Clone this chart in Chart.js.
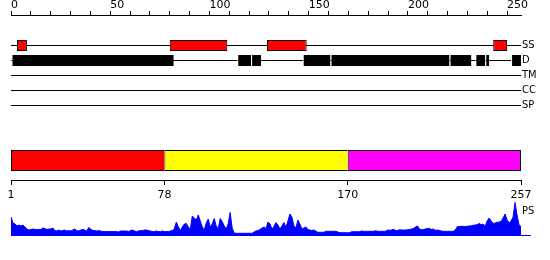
<!DOCTYPE html>
<html>
<head>
<meta charset="utf-8">
<script src="https://cdn.jsdelivr.net/npm/chart.js@4.4.1/dist/chart.umd.min.js"></script>
<style>
  html, body { margin: 0; padding: 0; background: #ffffff; }
  #wrap { position: relative; width: 550px; height: 260px; background: #ffffff; overflow: hidden; }
  canvas { position: absolute; left: 0; }
  #tracks { top: 0px; }
  #domains { top: 140px; }
  #ps { top: 198px; }
</style>
</head>
<body>
<div id="wrap">
  <canvas id="tracks" width="550" height="125"></canvas>
  <canvas id="domains" width="550" height="60"></canvas>
  <canvas id="ps" width="550" height="62"></canvas>
</div>
<script>
// ---------------- data ----------------
const seqLength = 257;
const rulerTicks = [0,10,20,30,40,50,60,70,80,90,100,110,120,130,140,150,160,170,180,190,200,210,220,230,240,250];
const rulerLabels = [0,50,100,150,200,250];
const trackNames = ['SS','D','TM','CC','SP'];
// residue ranges [first, last]
const ssRegions = [[4,8],[81,109],[130,149],[244,250]];
const disorderRegions = [[1,82],[115,121],[122,126],[148,161],[162,221],[222,232],[235,239],[240,241],[253,257]];
const tmRegions = [];
const ccRegions = [];
const spRegions = [];
const domainRegions = [[1,78],[78,170],[170,257]];
const domainTicks = [1,78,170,257];
const psScores = [
  18,12,11,9,10,9,10,8,6,5,
  5.5,6,5.5,5.5,5.5,5.5,7,6.5,5.5,6,
  6,7,4.5,4,5,4,4.5,5,4,4.5,
  4,5,6,4.5,4,5,5.5,5,4,7.5,
  6,4.5,4.5,4,4.5,4,3.5,3.5,3.5,3.5,
  3.5,3.5,3.5,3.5,3,4,4,4,4,3.5,
  4.5,5,4,3.5,4,4.5,4.5,5,5,4.5,
  4,3.5,3.5,4,3.5,3.5,4,3.5,3.5,3.5,
  4,4.5,6.5,13,8,4.5,8,11,11.5,8,
  6,19,17,15,20,14,8,5,12,16,
  8,11,16.5,9,6,16.5,13.5,9,6,11,
  22.5,7,2,1.7,1.7,1.7,1.7,1.7,1.7,1.7,
  1.7,1.7,3,4,4.5,5.5,7,8,6.5,13,
  11,6,8.5,12.5,10,6,9,12.5,7.5,14,
  21,18,9,7,15,11,6,7,8,5.5,
  5,4.5,5,4,2.7,2.7,2.7,2.7,3.7,3.7,
  3.7,3.7,3.7,3.7,3,2.5,2.3,2.3,2.3,2.3,
  2.3,3.3,3.3,3.3,3.3,3.3,4,3.7,3.7,3.7,
  3.7,3.7,3.7,4.3,3.7,3.7,3.7,3.7,3.7,5,
  4.7,5,5.7,4.5,4.5,5.3,5,5,5,5.3,
  5.5,6,6.5,8,9,6,5.3,5.5,6,6.5,
  6.7,5.5,6,4.7,5,4.5,4,3.7,3.7,3.7,
  3.7,3.7,3.7,5,8.3,8.5,8.7,8.7,8.5,8.7,
  9,9.3,9.7,10,10.5,11.5,10.3,11,8.5,14,
  17,14,11.5,12,12.7,13,13.5,17,21,15,
  12,14,18,32.5,20,10,8.5
];
const psLabel = 'PS';

// ---------------- styles / layout ----------------
Chart.defaults.font.family = '"DejaVu Sans", sans-serif';
Chart.defaults.font.size = 11;
Chart.defaults.color = '#000000';
const domainColors = ['#ff0000', '#ffff00', '#ff00ff'];
const PLOT_LEFT = 11;
const LABEL_COL = 29;
const TRACK_STEP = 15;       // px between track lines
const TRACK_FIRST = 30.5;    // px from ruler line to first track line

const common = {
  responsive: false,
  maintainAspectRatio: false,
  animation: false,
  devicePixelRatio: 1,
  events: [],
  plugins: { legend: { display: false }, tooltip: { enabled: false }, title: { display: false } }
};

function trackData(regions, name) {
  const row = trackNames.indexOf(name);
  return regions.map(([s, e]) => ({ x: [s - 1, e], y: row }));
}

// ---------------- chart 1: ruler + feature tracks ----------------
const trackAreaHeight = 100;
const yMin = -TRACK_FIRST / TRACK_STEP;
new Chart(document.getElementById('tracks'), {
  type: 'bar',
  data: {
    datasets: [
      { label: 'SS', data: trackData(ssRegions, 'SS'), backgroundColor: '#ff0000', borderColor: '#000000',
        borderWidth: 1, borderSkipped: false, barThickness: 11, maxBarThickness: 11, grouped: false, inflateAmount: 0 },
      { label: 'D', data: trackData(disorderRegions, 'D'), backgroundColor: '#000000', borderColor: '#ffffff',
        borderWidth: { left: 1, right: 0, top: 0, bottom: 0 }, borderSkipped: false, barThickness: 11, maxBarThickness: 11, grouped: false, inflateAmount: 0 },
      { label: 'TM', data: trackData(tmRegions, 'TM'), backgroundColor: '#000000', barThickness: 11, maxBarThickness: 11, grouped: false },
      { label: 'CC', data: trackData(ccRegions, 'CC'), backgroundColor: '#000000', barThickness: 11, maxBarThickness: 11, grouped: false },
      { label: 'SP', data: trackData(spRegions, 'SP'), backgroundColor: '#000000', barThickness: 11, maxBarThickness: 11, grouped: false }
    ]
  },
  options: Object.assign({}, common, {
    indexAxis: 'y',
    layout: { padding: { left: PLOT_LEFT, right: 0, top: 0, bottom: 10 } },
    scales: {
      x: {
        type: 'linear', position: 'top', min: 0, max: seqLength,
        afterBuildTicks: s => { s.ticks = rulerTicks.map(v => ({ value: v })); },
        ticks: { align: 'start', padding: 0, autoSkip: false, maxRotation: 0, font: { lineHeight: 1 },
                 callback: v => rulerLabels.includes(v) ? String(v) : '' },
        grid: { drawOnChartArea: false, tickLength: 4, color: '#000000', tickColor: '#000000' },
        border: { color: '#000000', width: 1 },
        afterFit: s => { s.height = 15; }
      },
      y: {
        type: 'linear', position: 'right', reverse: true, offset: false, bounds: 'data',
        min: yMin, max: yMin + trackAreaHeight / TRACK_STEP,
        afterBuildTicks: s => { s.ticks = trackNames.map((_, i) => ({ value: i })); },
        ticks: { padding: 1, autoSkip: false, callback: v => trackNames[v],
                 font: { family: '"DejaVu Sans Condensed", "Liberation Sans Narrow", "DejaVu Sans", sans-serif', size: 11, lineHeight: 1 } },
        grid: { color: '#000000', drawTicks: false, lineWidth: 1, offset: false },
        border: { display: false },
        afterFit: s => { s.width = LABEL_COL; }
      }
    }
  })
});

// ---------------- chart 2: domain bar ----------------
new Chart(document.getElementById('domains'), {
  type: 'bar',
  data: {
    datasets: [{
      data: domainRegions.map(([s, e]) => ({ x: [s, e], y: 0 })),
      backgroundColor: domainColors,
      borderColor: '#000000',
      borderWidth: c => ({ top: 1, bottom: 1, left: 1, right: c.dataIndex === domainRegions.length - 1 ? 1 : 0 }),
      borderSkipped: false, barThickness: 21, maxBarThickness: 21, grouped: false, inflateAmount: 0
    }]
  },
  options: Object.assign({}, common, {
    indexAxis: 'y',
    layout: { padding: { left: PLOT_LEFT, right: LABEL_COL, top: 1, bottom: 0 } },
    scales: {
      x: {
        type: 'linear', position: 'bottom', min: 1, max: seqLength,
        afterBuildTicks: s => { s.ticks = domainTicks.map(v => ({ value: v })); },
        ticks: { padding: 5, autoSkip: false, maxRotation: 0, font: { lineHeight: 1 }, callback: v => String(v) },
        grid: { drawOnChartArea: false, tickLength: 5, color: '#000000' },
        border: { color: '#000000', width: 1 },
        afterFit: s => { s.height = 20; }
      },
      y: { type: 'linear', min: -1, max: 1, display: false,
           afterBuildTicks: s => { s.ticks = []; } }
    }
  })
});

// ---------------- chart 3: PS profile ----------------
const psLabelPlugin = {
  id: 'psLabel',
  afterDraw(chart) {
    const ctx = chart.ctx;
    const x = chart.scales.x.getPixelForValue(seqLength);
    ctx.save();
    ctx.font = '11px "DejaVu Sans Condensed", "Liberation Sans Narrow", "DejaVu Sans", sans-serif';
    ctx.fillStyle = '#000000';
    ctx.textAlign = 'left';
    ctx.textBaseline = 'middle';
    ctx.fillText(psLabel, x + 1, chart.chartArea.top + 11);
    ctx.restore();
  }
};
new Chart(document.getElementById('ps'), {
  type: 'line',
  data: {
    datasets: [{
      data: psScores.map((v, i) => ({ x: i + 1, y: v })),
      fill: 'start', backgroundColor: '#0000ff', borderColor: '#0000ff', borderWidth: 1,
      pointRadius: 0, tension: 0
    }]
  },
  options: Object.assign({}, common, {
    layout: { padding: { left: PLOT_LEFT, right: 20, top: 2, bottom: 25 } },
    scales: {
      x: {
        type: 'linear', min: 1, max: seqLength + 4.5,
        ticks: { display: false },
        grid: { drawOnChartArea: false, drawTicks: false },
        border: { color: '#0000ff', width: 1 },
        afterFit: s => { s.height = 0; }
      },
      y: { min: 0, max: 35, display: false }
    }
  }),
  plugins: [psLabelPlugin]
});
</script>
</body>
</html>
